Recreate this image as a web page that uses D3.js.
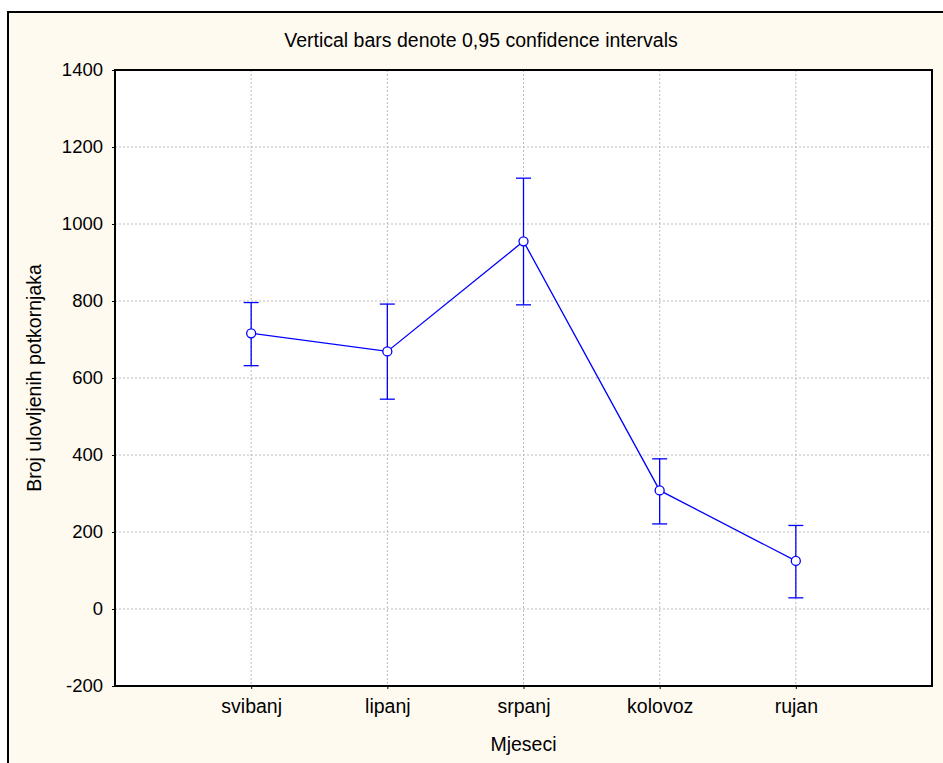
<!DOCTYPE html>
<html>
<head>
<meta charset="utf-8">
<script src="https://cdn.jsdelivr.net/npm/d3@7"></script>
<style>
  body { margin: 0; background: #fff; }
  text { font-family: Arial, "Liberation Sans", sans-serif; fill: #000; }
</style>
</head>
<body>
<script>
// data
var months = ['svibanj', 'lipanj', 'srpanj', 'kolovoz', 'rujan'];
var means = [716, 669, 955, 308, 125];
var upper = [796, 792, 1119, 390, 217];
var lower = [632, 545, 790, 221, 29];
var yTicks = [-200, 0, 200, 400, 600, 800, 1000, 1200, 1400];

var W = 943, H = 763;
var plot = {left: 115, top: 70, right: 932, bottom: 686};

var svg = d3.select('body').append('svg')
  .attr('width', W)
  .attr('height', H);

// frame
svg.append('rect')
  .attr('x', 8).attr('y', 12)
  .attr('width', W + 20).attr('height', H + 20)
  .attr('fill', '#fffaf0')
  .attr('stroke', '#000')
  .attr('stroke-width', 2);

var x = d3.scalePoint()
  .domain(months)
  .range([plot.left, plot.right])
  .padding(1);

var y = d3.scaleLinear()
  .domain([-200, 1400])
  .range([plot.bottom, plot.top]);

svg.append('rect')
  .attr('x', plot.left).attr('y', plot.top)
  .attr('width', plot.right - plot.left)
  .attr('height', plot.bottom - plot.top)
  .attr('fill', '#fff');

// gridlines
svg.append('g').selectAll('line')
  .data(yTicks.slice(1, -1))
  .enter().append('line')
  .attr('x1', plot.left).attr('x2', plot.right)
  .attr('y1', function(d) { return y(d); })
  .attr('y2', function(d) { return y(d); })
  .attr('stroke', '#bbb')
  .attr('stroke-dasharray', '2,2');

svg.append('g').selectAll('line')
  .data(months)
  .enter().append('line')
  .attr('x1', function(d) { return x(d); })
  .attr('x2', function(d) { return x(d); })
  .attr('y1', plot.top).attr('y2', plot.bottom)
  .attr('stroke', '#bbb')
  .attr('stroke-dasharray', '2,2');

// axes
var yAxis = svg.append('g')
  .attr('transform', 'translate(' + plot.left + ',0)')
  .call(d3.axisLeft(y).tickValues(yTicks).tickSize(3).tickPadding(9)
    .tickFormat(function(d) { return String(d); }));
var xAxis = svg.append('g')
  .attr('transform', 'translate(0,' + plot.bottom + ')')
  .call(d3.axisBottom(x).tickSize(3).tickPadding(10));

[yAxis, xAxis].forEach(function(a) {
  a.select('.domain').remove();
  a.selectAll('.tick line').attr('stroke', '#000');
  a.selectAll('.tick text')
    .style('font-family', 'Arial, "Liberation Sans", sans-serif');
});
yAxis.selectAll('.tick text').style('font-size', '18.5px');
xAxis.selectAll('.tick text').style('font-size', '19.5px');

svg.append('rect')
  .attr('x', plot.left).attr('y', plot.top)
  .attr('width', plot.right - plot.left)
  .attr('height', plot.bottom - plot.top)
  .attr('fill', 'none')
  .attr('stroke', '#000')
  .attr('stroke-width', 2);

// error bars
var blue = '#0000ff';
var bars = svg.append('g');
months.forEach(function(m, i) {
  bars.append('line')
    .attr('x1', x(m)).attr('x2', x(m))
    .attr('y1', y(upper[i])).attr('y2', y(lower[i]))
    .attr('stroke', blue).attr('stroke-width', 1.3);
  [upper[i], lower[i]].forEach(function(v) {
    bars.append('line')
      .attr('x1', x(m) - 7.5).attr('x2', x(m) + 7.5)
      .attr('y1', y(v)).attr('y2', y(v))
      .attr('stroke', blue).attr('stroke-width', 1.3);
  });
});

var line = d3.line()
  .x(function(d, i) { return x(months[i]); })
  .y(function(d) { return y(d); });

svg.append('path')
  .datum(means)
  .attr('d', line)
  .attr('fill', 'none')
  .attr('stroke', blue)
  .attr('stroke-width', 1.3);

svg.append('g').selectAll('circle')
  .data(means)
  .enter().append('circle')
  .attr('cx', function(d, i) { return x(months[i]); })
  .attr('cy', function(d) { return y(d); })
  .attr('r', 4.5)
  .attr('fill', '#fff')
  .attr('stroke', blue)
  .attr('stroke-width', 1.3);

// texts
svg.append('text')
  .attr('x', 481).attr('y', 47)
  .attr('text-anchor', 'middle')
  .style('font-size', '19.5px')
  .text('Vertical bars denote 0,95 confidence intervals');

svg.append('text')
  .attr('x', (plot.left + plot.right) / 2).attr('y', 751)
  .attr('text-anchor', 'middle')
  .style('font-size', '19.5px')
  .text('Mjeseci');

svg.append('text')
  .attr('transform', 'translate(41,' + (plot.top + plot.bottom) / 2 + ') rotate(-90)')
  .attr('text-anchor', 'middle')
  .style('font-size', '19.5px')
  .text('Broj ulovljenih potkornjaka');
</script>
</body>
</html>
